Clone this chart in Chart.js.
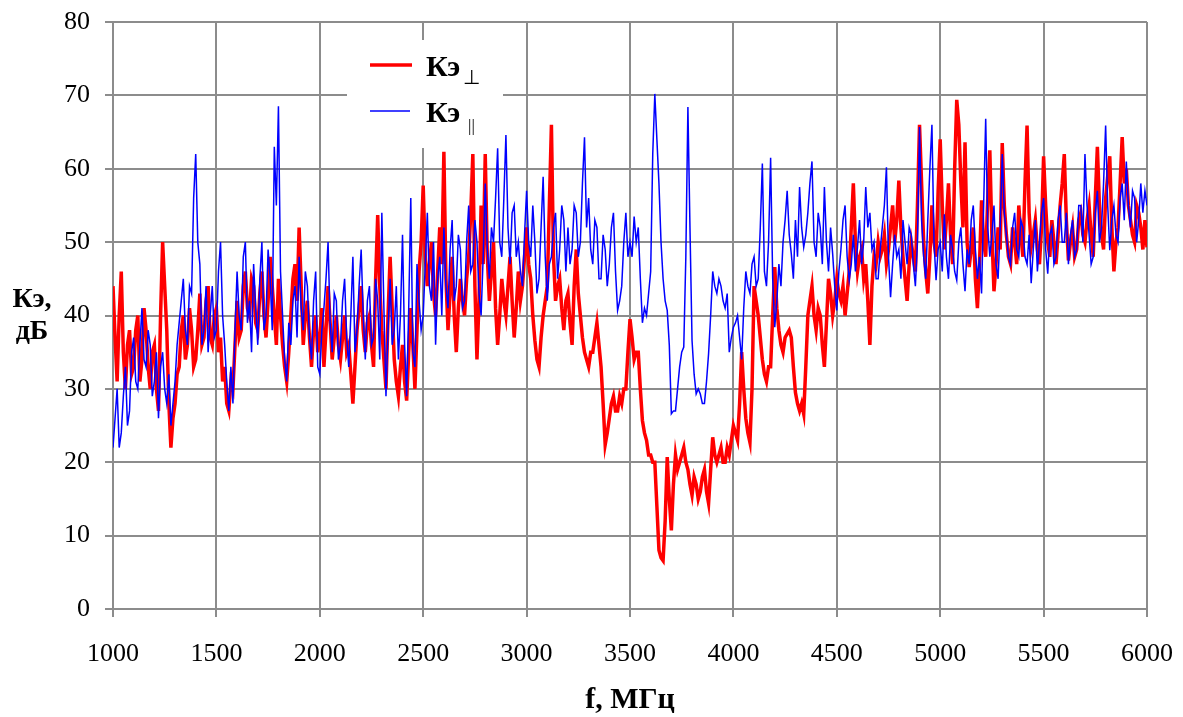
<!DOCTYPE html>
<html>
<head>
<meta charset="utf-8">
<script src="https://cdn.jsdelivr.net/npm/chart.js@4.4.0/dist/chart.umd.min.js"></script>
<style>
  body { margin: 0; background: #fff; }
  #wrap { width: 1183px; height: 717px; }
</style>
</head>
<body>
<div id="wrap"><canvas id="chart" width="1183" height="717"></canvas></div>
<script>
// sampling grid, MHz (one row below = 100 MHz)
const freqStart = 1000;
const freqStep = 10;

// Кэ⊥, dB (red)
const kePerp = [
  44, 37, 31, 40, 46, 35, 30, 36, 38, 32,
  33, 38, 40, 31, 34, 41, 38, 33, 30, 35,
  36, 30, 27, 40, 50, 44, 38, 28, 22, 26,
  28, 32, 33, 38, 40, 34, 36, 41, 38, 33,
  34, 38, 43, 36, 37, 42, 44, 37, 36, 40,
  41, 35, 37, 31, 33, 28, 27, 31, 30, 36,
  42, 37, 38, 44, 46, 41, 40, 45, 44, 39,
  38, 43, 46, 40, 37, 42, 48, 44, 40, 36,
  45, 40, 36, 33, 31, 35, 40, 45, 47, 42,
  52, 44, 36, 40, 42, 37, 33, 38, 40, 35,
  37, 41, 33, 38, 44, 39, 34, 37, 40, 36,
  34, 37, 40, 35, 36, 32, 28, 33, 38, 41,
  44, 38, 35, 39, 40, 36, 33, 45, 53.7, 44,
  38, 34, 30, 40, 48, 41, 34, 31, 29, 33,
  36, 31, 28.4, 35, 41, 36, 30, 38, 46, 50,
  57.7, 48, 44, 47, 50, 43, 40, 46, 52, 47,
  62.3, 45, 38, 43, 48, 40, 35, 41, 45, 42,
  40, 45, 48, 54, 62, 44, 34, 42, 55, 47,
  62, 48, 42, 46, 50, 41, 36, 40, 45, 42,
  40, 44, 48, 42, 37, 41, 46, 42, 44, 48,
  52, 47, 45, 40, 36.6, 34, 33, 37, 40, 42,
  44, 55, 66, 48, 42, 44, 45, 41, 38, 42,
  43, 39, 36, 44, 49, 43, 40, 37, 35, 34,
  33, 35, 35, 37, 39, 36, 33, 28, 22.4, 24,
  26, 28, 29, 27, 27, 29, 28, 30, 30, 35,
  39.5, 37, 34, 35, 35, 30, 25.7, 24, 23, 21,
  21, 20, 20, 14, 8, 7, 6.6, 12, 20.7, 15,
  10.7, 17, 21, 19, 20, 21, 22, 20, 19, 17,
  15.5, 18, 17, 15, 16, 18, 19, 16, 14.4, 19,
  23.4, 21, 20, 21, 22, 20, 20, 22, 21, 23,
  25, 24, 23, 28, 35, 30, 26, 24, 22.7, 30,
  44, 42, 40, 37, 34, 32, 31, 33, 33, 40,
  46.6, 41, 38, 36, 35, 37, 37.5, 38, 37, 33,
  29.5, 28, 27, 28, 26.6, 33, 40, 42, 44, 40,
  38, 41, 40, 36, 33, 39, 45, 43, 40, 42,
  45, 43, 42, 44, 40, 43, 46, 52, 58, 50,
  46, 48, 49, 45, 47, 42, 36, 44, 48, 47,
  50, 48, 49, 51, 47, 49, 52, 55, 50, 53,
  58.4, 52, 48, 45, 42, 47, 50, 48, 46, 55,
  66, 58, 50, 46, 43, 48, 55, 50, 48, 57,
  64, 55, 49, 53, 58, 51, 47, 60, 69.4, 66,
  58, 52, 63.6, 50, 46.6, 49, 52, 45, 41, 47,
  55.7, 50, 48, 56, 62.5, 51, 43.3, 47, 52, 49,
  63.5, 55, 51, 48, 47, 52, 50, 47, 55, 51,
  48, 58, 65.9, 54, 49.3, 51, 53, 49, 47, 52,
  61.7, 55, 50, 48, 53, 50, 47, 51, 55, 58,
  62, 53, 47.5, 50, 52, 48, 49, 53, 54, 51,
  50, 53, 55, 51, 48, 56, 63, 55, 51, 49,
  56, 59, 61.7, 52, 46, 50, 52, 58, 64.3, 58,
  60, 55, 53, 51, 50, 55, 54, 52, 49, 53,
  49.3
];

// Кэ||, dB (blue)
const kePar = [
  22, 26, 30, 22, 24, 29, 33, 25, 27, 35,
  37, 31, 30, 36, 41, 34, 33, 38, 36, 29,
  31, 35, 26, 33, 35, 30, 28, 32, 25, 28,
  31, 36, 39, 42, 45, 38, 36, 44, 43, 56,
  62, 50, 47, 36, 38, 44, 35, 40, 44, 37,
  38, 46, 50, 40, 36, 31, 27, 33, 28, 38,
  46, 40, 38, 48, 50, 39, 42, 35, 47, 41,
  36, 45, 50, 38, 40, 49, 45, 38, 63, 55,
  68.5, 46, 40, 34, 31, 39, 36, 42, 44, 37,
  48, 41, 38, 46, 44, 37, 34, 42, 46, 33,
  32, 38, 41, 45, 50, 39, 35, 43, 42, 34,
  36, 42, 45, 37, 33, 40, 48, 35, 38, 44,
  49, 40, 34, 42, 44, 36, 37, 45, 42, 34,
  54, 41, 29, 38, 45, 36, 38, 44, 34, 40,
  51, 36, 29, 41, 56, 35, 33, 47, 42, 38,
  40, 47, 54, 44, 42, 50, 36, 45, 48, 40,
  52, 44, 41, 49, 53, 42, 44, 51, 49, 41,
  42, 50, 55, 46, 47, 53, 50, 43, 40, 48,
  58, 49, 45, 52, 50, 56, 62.8, 50, 48, 56,
  64.6, 52, 47, 54, 55, 48, 50, 46, 44, 51,
  57, 50, 48, 55, 50, 43, 45, 52, 58.9, 48,
  42, 47, 48, 52, 54, 45, 49, 55, 53, 46,
  52, 47, 49, 55, 54, 48, 50, 58, 64.3, 52,
  56, 49, 47, 53, 52, 45, 45, 51, 49, 44,
  47, 52, 54, 46, 40.7, 42, 44, 50, 54, 48,
  50, 48, 53.5, 50, 52, 45, 39, 41, 40, 43,
  46, 62, 70.2, 64, 58, 50, 45, 42, 40.7, 36,
  26.6, 27, 27, 30, 33, 35, 35.7, 48, 68.4, 52,
  36.6, 32, 29.3, 30, 29.3, 28, 28, 31, 34.8, 40,
  46, 44, 43, 45, 44, 42, 41, 43, 35, 37,
  38.4, 39, 40, 37, 34, 41, 46, 44, 43, 47,
  48, 44, 45, 52, 60.7, 46, 44, 50, 61.5, 45,
  38.4, 42, 47, 44, 50, 53, 57, 51, 48.4, 45,
  53, 48, 57.5, 52, 49.3, 51, 54, 58, 61, 50,
  48, 54, 52, 47, 57.5, 50, 46, 52, 48.4, 44,
  40.7, 46, 49, 53, 55, 48, 44.8, 47, 51, 46,
  49.3, 53, 47, 50, 57.5, 52, 54, 49, 50, 45,
  45, 49, 52, 55, 60.2, 48, 42.5, 47, 51, 48,
  49, 45, 53, 50, 47, 52, 51, 47, 44, 50,
  65.7, 53, 48, 45, 53, 60, 66, 50, 44.8, 49,
  50, 46, 53.8, 48, 45, 51, 49, 46, 44.8, 50,
  52, 47, 43.3, 49, 47, 53, 55, 49, 45, 48,
  43, 55, 66.8, 52, 48, 51, 55, 47, 45, 52,
  62, 54, 51, 48, 47, 52, 54, 49, 48, 53,
  52, 48, 47, 51, 44.4, 49, 53, 46, 50, 54,
  56, 49, 45.7, 51, 52, 47, 48, 53, 55, 50,
  50, 54, 47, 51, 53, 48, 49, 55, 55, 50,
  62, 55, 51, 47, 48, 54, 57, 50, 52, 58,
  65.9, 55, 48.9, 53, 55, 51, 50, 56, 58, 53,
  61, 55, 52, 57, 56, 50, 53, 58, 54, 57,
  55
];

const xTicks = { min: 1000, max: 6000, step: 500 };
const yTicks = { min: 0, max: 80, step: 10 };

function toPoints(values) {
  return values.map((v, i) => ({ x: freqStart + i * freqStep, y: v }));
}

const serif = "'Liberation Serif', 'Times New Roman', serif";
const gridColor = '#8c8c8c';

// legend box, axis titles
const extraText = {
  id: 'extraText',
  afterDraw(chart) {
    const ctx = chart.ctx;
    ctx.save();

    ctx.fillStyle = '#fff';
    ctx.fillRect(347, 40, 156, 108);

    ctx.lineCap = 'butt';
    ctx.strokeStyle = '#ff0000';
    ctx.lineWidth = 3.5;
    ctx.beginPath();
    ctx.moveTo(370, 65);
    ctx.lineTo(412, 65);
    ctx.stroke();

    ctx.strokeStyle = '#0000ff';
    ctx.lineWidth = 1.5;
    ctx.beginPath();
    ctx.moveTo(370, 111);
    ctx.lineTo(410, 111);
    ctx.stroke();

    ctx.fillStyle = '#000';
    ctx.textAlign = 'left';
    ctx.textBaseline = 'alphabetic';
    ctx.font = 'bold 30px ' + serif;
    ctx.fillText('Кэ', 426, 76);
    ctx.fillText('Кэ', 426, 122);
    ctx.font = '20px ' + serif;
    ctx.fillText('⊥', 463, 84);
    ctx.font = '17px ' + serif;
    ctx.fillText('||', 468, 131);

    ctx.textAlign = 'center';
    ctx.font = 'bold 28px ' + serif;
    ctx.fillText('Кэ,', 32, 307);
    ctx.fillText('дБ', 32, 339);

    ctx.font = 'bold 30px ' + serif;
    ctx.fillText('f, МГц', 630, 708);
    ctx.restore();
  }
};

const ctx = document.getElementById('chart').getContext('2d');
const chart = new Chart(ctx, {
  type: 'line',
  data: {
    datasets: [
      {
        label: 'Кэ||',
        data: toPoints(kePar),
        borderColor: '#0000ff',
        borderWidth: 1.5,
        pointRadius: 0,
        tension: 0,
        order: 0
      },
      {
        label: 'Кэ⊥',
        data: toPoints(kePerp),
        borderColor: '#ff0000',
        borderWidth: 3.5,
        pointRadius: 0,
        tension: 0,
        order: 1
      }
    ]
  },
  options: {
    responsive: false,
    animation: false,
    layout: { padding: { top: 22, right: 36, bottom: 0, left: 0 } },
    plugins: {
      legend: { display: false },
      tooltip: { enabled: false }
    },
    scales: {
      x: {
        type: 'linear',
        min: xTicks.min,
        max: xTicks.max,
        ticks: {
          stepSize: xTicks.step,
          maxRotation: 0,
          padding: 22,
          color: '#000',
          font: { family: serif, size: 26 },
          callback: function (value) { return String(value); }
        },
        grid: { color: gridColor, lineWidth: 2, tickLength: 8 },
        border: { color: gridColor, width: 2 },
        afterFit: function (scale) {
          scale.height = 108;
          scale.paddingLeft = 0;
          scale.paddingRight = 0;
        }
      },
      y: {
        min: yTicks.min,
        max: yTicks.max,
        ticks: {
          stepSize: yTicks.step,
          padding: 15,
          color: '#000',
          font: { family: serif, size: 26 }
        },
        grid: { color: gridColor, lineWidth: 2, tickLength: 8 },
        border: { color: gridColor, width: 2 },
        afterFit: function (scale) {
          scale.width = 113;
          scale.paddingTop = 0;
          scale.paddingBottom = 0;
        }
      }
    }
  },
  plugins: [extraText]
});
</script>
</body>
</html>
